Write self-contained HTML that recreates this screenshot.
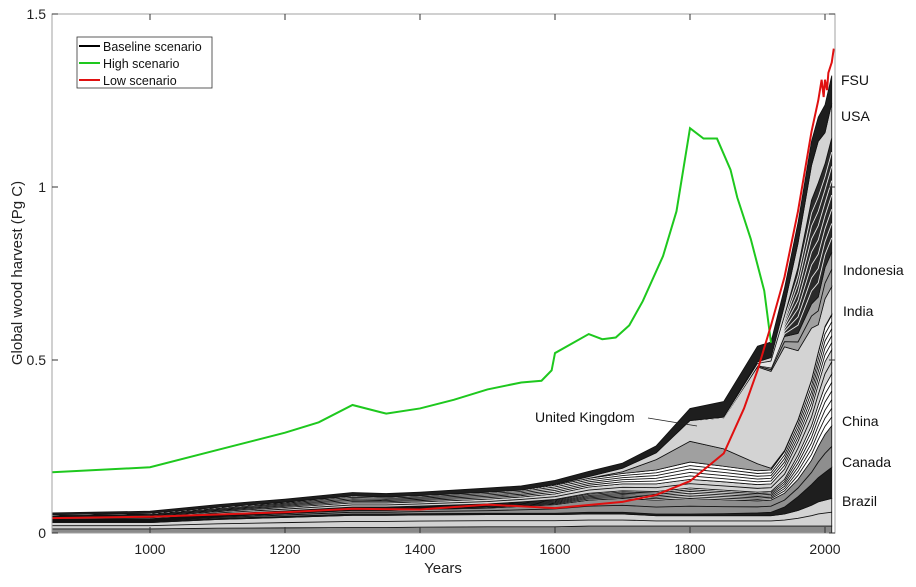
<!DOCTYPE html>
<html><head><meta charset="utf-8"><style>
body{margin:0;background:#fff;}
svg text{font-family:"Liberation Sans",sans-serif;}
</style></head><body>
<svg id="chart" width="916" height="582" viewBox="0 0 916 582"></svg>
<script>
const years=[850,1000,1100,1200,1300,1350,1400,1500,1550,1600,1650,1700,1750,1800,1850,1900,1920,1940,1960,1980,1990,2000,2010];
const lowerDark=[.012,.012,.014,.015,.016,.016,.017,.018,.018,.018,.02,.02,.02,.02,.02,.02,.02,.02,.02,.02,.02,.02,.02];
const brazil=[.018,.018,.025,.03,.035,.035,.035,.035,.035,.035,.035,.035,.03,.03,.03,.03,.03,.035,.045,.06,.07,.075,.08];
const canada=[.003,.003,.003,.003,.004,.004,.004,.004,.004,.004,.005,.005,.005,.005,.006,.008,.01,.02,.04,.06,.07,.08,.09];
const china=[.002,.002,.005,.008,.01,.01,.012,.015,.02,.025,.035,.04,.04,.045,.04,.035,.035,.04,.05,.07,.09,.11,.12];
const whiteLines=[.005,.006,.007,.008,.01,.01,.01,.012,.013,.015,.02,.022,.025,.03,.028,.025,.025,.04,.07,.1,.12,.14,.15];
const midLight=[.005,.006,.008,.01,.012,.012,.012,.014,.014,.016,.018,.02,.022,.025,.024,.022,.022,.03,.04,.05,.06,.07,.07];
const upperLines=[.008,.01,.012,.015,.02,.017,.018,.02,.02,.025,.025,.03,.04,.05,.045,.04,.04,.05,.06,.08,.09,.1,.1];
const uk=[0,0,0,0,0,0,0,0,0,0,0,.005,.03,.06,.05,.02,.005,.003,.002,.002,.002,.002,.002];
const lightUpper=[0,0,0,0,0,0,0,0,0,.002,.005,.01,.02,.06,.09,.28,.28,.3,.2,.15,.08,.08,.08];
const india=[0,0,0,0,0,0,0,0,0,0,0,0,0,0,0,.005,.01,.03,.05,.07,.08,.09,.1];
const indonesia=[0,0,0,0,0,0,0,0,0,0,0,0,0,0,.002,.005,.02,.06,.19,.3,.33,.3,.33];
const usa=[0,0,0,0,0,0,0,0,0,0,0,0,0,0,0,.005,.01,.03,.07,.1,.12,.09,.1];
const fsu=[.005,.006,.008,.009,.01,.01,.01,.012,.012,.012,.015,.015,.02,.035,.045,.045,.045,.05,.06,.07,.07,.08,.08];

const lowYears=[850,1000,1200,1300,1400,1500,1600,1700,1750,1800,1850,1880,1900,1920,1940,1960,1980,1990,1995,1998,2000,2003,2005,2010,2013];
const lowVals=[.043,.047,.06,.07,.068,.082,.072,.09,.11,.15,.23,.36,.47,.6,.74,.93,1.16,1.25,1.31,1.26,1.31,1.28,1.33,1.36,1.40];
const highYears=[850,1000,1100,1200,1250,1300,1350,1400,1450,1500,1550,1580,1595,1600,1650,1670,1690,1710,1730,1760,1780,1800,1820,1840,1860,1870,1890,1910,1920];
const highVals=[.175,.19,.24,.29,.32,.37,.345,.36,.385,.415,.435,.44,.47,.52,.575,.56,.565,.6,.67,.8,.93,1.17,1.14,1.14,1.05,.97,.85,.7,.55];

const yTicks=[0,0.5,1,1.5];
const yTickLabels=["0","0.5","1","1.5"];
const xTicks=[1000,1200,1400,1600,1800,2000];

const L=52,R=835,T=14,B=533;
const xs=y=>150+(y-1000)*0.675;
const ys=v=>B-v*346;
const svg=document.getElementById('chart');
const NS='http://www.w3.org/2000/svg';
function mk(tag,attrs,parent){const e=document.createElementNS(NS,tag);for(const k in attrs)e.setAttribute(k,attrs[k]);(parent||svg).appendChild(e);return e;}

const clip=mk('clipPath',{id:'pc'});mk('rect',{x:L,y:T,width:R-L,height:B-T},clip);
const g=mk('g',{'clip-path':'url(#pc)'});



const layers=[[lowerDark,'#8a8a8a',1,'lower-band','#111'],[brazil,'#d3d3d3',2,'brazil-band','#111'],[canada,'#1e1e1e',1,'canada-band','#111'],[china,'#8e8e8e',2,'china-band','#111'],[whiteLines,'#ffffff',6,'misc-band','#111'],[midLight,'#d3d3d3',2,'mid-band','#111'],[upperLines,'#ffffff',5,'upper-lines-band','#111'],[uk,'#a0a0a0',1,'uk-band','#111'],[lightUpper,'#d3d3d3',1,'light-upper-band','#111'],[india,'#a0a0a0',2,'india-band','#111'],[indonesia,'#2a2a2a',8,'indonesia-band','#e8e8e8'],[usa,'#d3d3d3',1,'usa-band','#111'],[fsu,'#1e1e1e',1,'fsu-band','#111']];
let cum=years.map(()=>0);
layers.forEach(([vals,col,n,name,lc])=>{
  const lo=cum.slice();const hi=cum.map((c,i)=>c+vals[i]);
  let d='M'+years.map((y,i)=>xs(y)+','+ys(hi[i])).join('L')+'L'+years.slice().reverse().map((y,j)=>{const i=years.length-1-j;return xs(y)+','+ys(lo[i]);}).join('L')+'Z';
  const p=mk('path',{d:d,fill:col,stroke:'#111','stroke-width':0.8},g);
  
  
  for(let k=1;k<n;k++){
    const f=k/n;
    const l=mk('path',{d:'M'+years.map((y,i)=>xs(y)+','+ys(lo[i]+vals[i]*f)).join('L'),fill:'none',stroke:lc,'stroke-width':0.9},g);
    
    
  }
  cum=hi;
});

const hp=mk('path',{d:'M'+highYears.map((y,i)=>xs(y)+','+ys(highVals[i])).join('L'),fill:'none',stroke:'#1ec81e','stroke-width':2},g);


const lp=mk('path',{d:'M'+lowYears.map((y,i)=>xs(y)+','+ys(lowVals[i])).join('L'),fill:'none',stroke:'#e01010','stroke-width':2},g);



const frame=mk('rect',{x:L,y:T,width:R-L,height:B-T,fill:'none',stroke:'#a0a0a0','stroke-width':1});



yTicks.forEach((v,i)=>{
  const y=ys(v);
  mk('line',{x1:L,x2:L+6,y1:y,y2:y,stroke:'#333'});
  mk('line',{x1:R,x2:R-6,y1:y,y2:y,stroke:'#333'});
  const t=mk('text',{x:46,y:y+5,'text-anchor':'end','font-size':14,fill:'#222'});
  t.textContent=yTickLabels[i];
  
  
});
xTicks.forEach(v=>{
  const x=xs(v);
  mk('line',{x1:x,x2:x,y1:B,y2:B-6,stroke:'#333'});
  mk('line',{x1:x,x2:x,y1:T,y2:T+6,stroke:'#333'});
  const t=mk('text',{x:x,y:554,'text-anchor':'middle','font-size':14,fill:'#222'});
  t.textContent=v;
  
  
});
</script>
<svg width="916" height="582" style="position:absolute;left:0;top:0">
<text x="443" y="573" text-anchor="middle" font-size="15" fill="#222">Years</text>
<text transform="translate(22,273) rotate(-90)" text-anchor="middle" font-size="15" fill="#222">Global wood harvest (Pg C)</text>
<g font-size="14" fill="#111">
<text x="841" y="85">FSU</text>
<text x="841" y="121">USA</text>
<text x="843" y="275">Indonesia</text>
<text x="843" y="316">India</text>
<text x="842" y="426">China</text>
<text x="842" y="467">Canada</text>
<text x="842" y="506">Brazil</text>
<text x="535" y="422">United Kingdom</text>
</g>
<line x1="648" y1="418" x2="697" y2="426" stroke="#222" stroke-width="0.8"/>
<g>
<rect x="77" y="37" width="135" height="51" fill="#fff" stroke="#333" stroke-width="0.8"/>
<line x1="79" y1="46" x2="100" y2="46" stroke="#000" stroke-width="2"/>
<line x1="79" y1="63" x2="100" y2="63" stroke="#1ec81e" stroke-width="2"/>
<line x1="79" y1="80" x2="100" y2="80" stroke="#e01010" stroke-width="2"/>
<g font-size="12.5" fill="#111">
<text x="103" y="51">Baseline scenario</text>
<text x="103" y="68">High scenario</text>
<text x="103" y="85">Low scenario</text>
</g></g>
</svg>
</body></html>
